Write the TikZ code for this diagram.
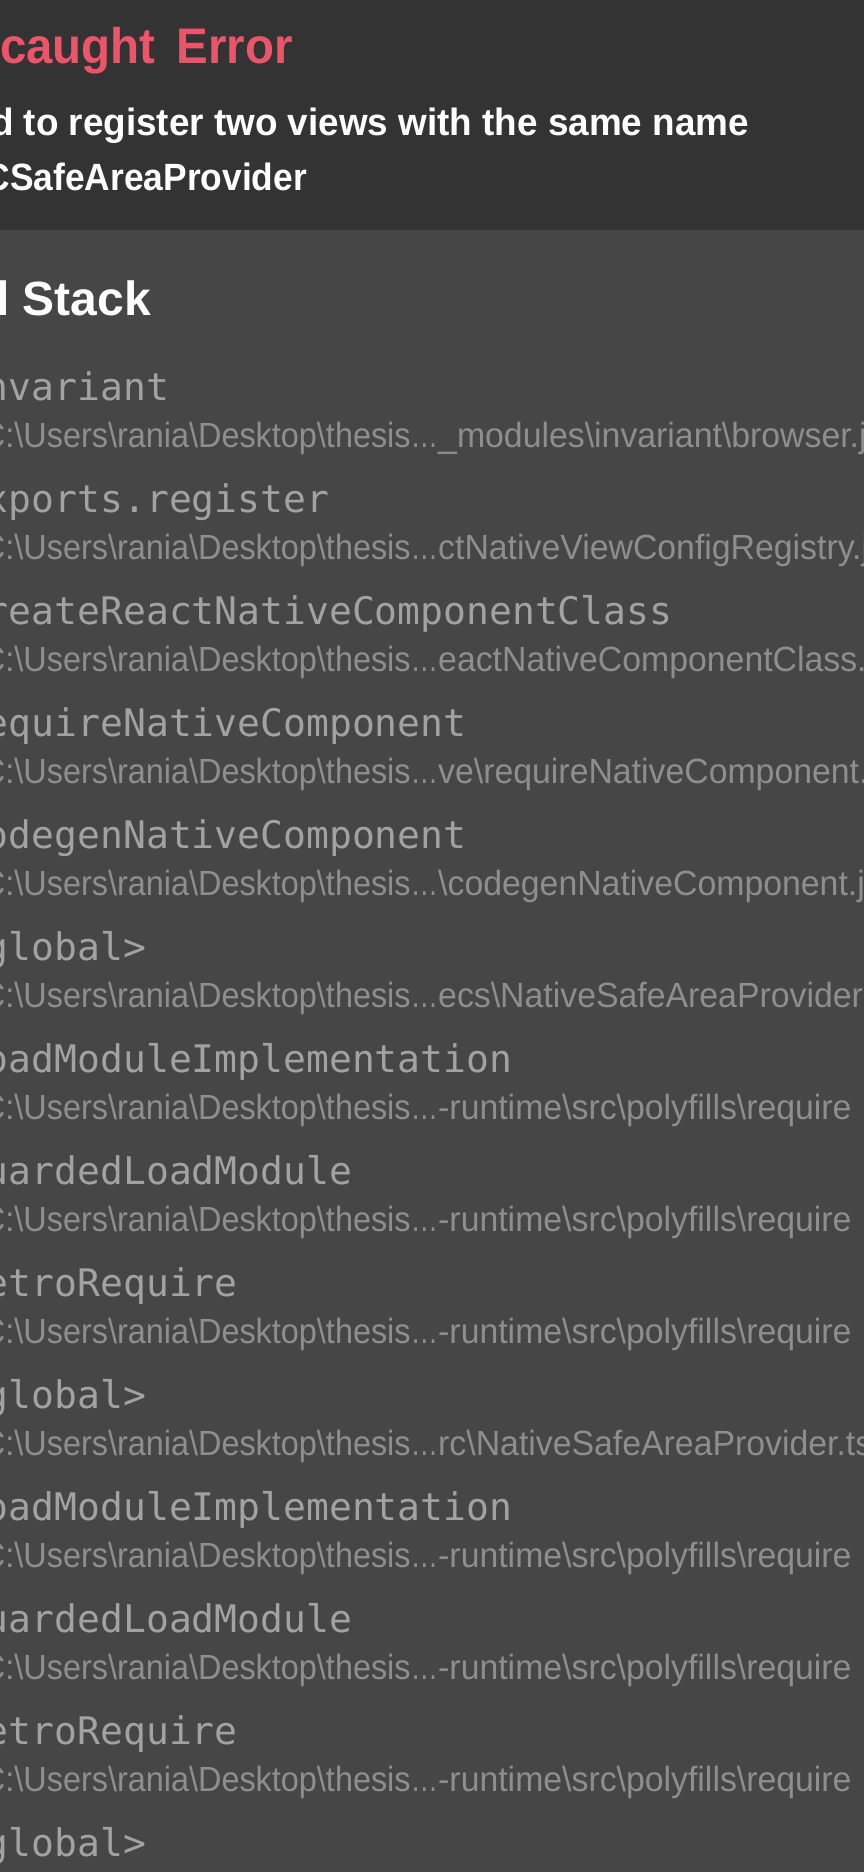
\documentclass[tikz,border=0pt]{standalone}
\usepackage{graphicx}
\usepackage{fontspec}
\setmainfont{Liberation Sans}
\newfontfamily\titlefont[FakeStretch=0.95,WordSpace=1.6]{Liberation Sans}
\newfontfamily\msgfontA[FakeStretch=0.97]{Liberation Sans}
\newfontfamily\msgfontB[FakeStretch=0.93]{Liberation Sans}
\newfontfamily\codefont{DejaVu Sans Mono}
\newfontfamily\pathfontA[FakeStretch=0.926]{Liberation Sans}
\newfontfamily\pathfontB[FakeStretch=0.966]{Liberation Sans}
\newcommand\Bsl{\textbackslash}
\newcommand\Loc{{\pathfontA C:\Bsl Users\Bsl rania\Bsl Desktop\Bsl thesis\scalebox{0.85}[1]{…}}\pathfontB}
\definecolor{headbg}{RGB}{51,51,51}
\definecolor{bodybg}{RGB}{70,70,70}
\definecolor{errred}{RGB}{236,84,106}
\definecolor{monogray}{RGB}{162,162,162}
\definecolor{pathgray}{RGB}{142,142,142}
\tikzset{
  txt/.style={anchor=base west, inner sep=0pt, outer sep=0pt},
  frame/.style={txt, text=monogray, font=\codefont\fontsize{38}{40}\selectfont},
  loc/.style={txt, text=pathgray, font=\fontsize{35}{38}\selectfont},
  msg/.style={txt, text=white},
}
\begin{document}
\begin{tikzpicture}[x=1pt,y=-1pt]
\useasboundingbox (0,0) rectangle (864,1872);
\clip (0,0) rectangle (864,1872);
\fill[bodybg] (0,0) rectangle (864,1872);
\fill[headbg] (0,0) rectangle (864,230);
% header
\node[txt, text=errred, font=\titlefont\bfseries\fontsize{50}{55}\selectfont] (title) at (0,63) {caught Error};
\node[msg, font=\msgfontA\bfseries\fontsize{38}{42}\selectfont] (msg1) at (-9,135) {d to register two views with the same name};
\node[msg, font=\msgfontB\bfseries\fontsize{38}{42}\selectfont] (msg2) at (-15.2,190) {CSafeAreaProvider};
\node[txt, text=white, font=\bfseries\fontsize{48}{52}\selectfont] (heading) at (-3.7,315) {l Stack};
% call stack frames
\node[frame] (f1)  at (-14,400)  {nvariant};
\node[loc]   (p1)  at (-18,447) {\Loc\_modules\Bsl invariant\Bsl browser.j};
\node[frame] (f2)  at (-14,512)  {xports.register};
\node[loc]   (p2)  at (-18,559) {\Loc ctNativeViewConfigRegistry.j};
\node[frame] (f3)  at (-14,624)  {reateReactNativeComponentClass};
\node[loc]   (p3)  at (-18,671) {\Loc eactNativeComponentClass.j};
\node[frame] (f4)  at (-14,736)  {equireNativeComponent};
\node[loc]   (p4)  at (-18,783) {\Loc ve\Bsl requireNativeComponent.j};
\node[frame] (f5)  at (-14,848)  {odegenNativeComponent};
\node[loc]   (p5)  at (-18,895) {\Loc\Bsl codegenNativeComponent.j};
\node[frame] (f6)  at (-14,960)  {global>};
\node[loc]   (p6)  at (-18,1007) {\Loc ecs\Bsl NativeSafeAreaProvider.j};
\node[frame] (f7)  at (-14,1072) {oadModuleImplementation};
\node[loc]   (p7)  at (-18,1119) {\Loc -runtime\Bsl src\Bsl polyfills\Bsl require};
\node[frame] (f8)  at (-14,1184) {uardedLoadModule};
\node[loc]   (p8)  at (-18,1231) {\Loc -runtime\Bsl src\Bsl polyfills\Bsl require};
\node[frame] (f9)  at (-14,1296) {etroRequire};
\node[loc]   (p9)  at (-18,1343) {\Loc -runtime\Bsl src\Bsl polyfills\Bsl require};
\node[frame] (f10) at (-14,1408) {global>};
\node[loc]   (p10) at (-18,1455) {\Loc rc\Bsl NativeSafeAreaProvider.ts};
\node[frame] (f11) at (-14,1520) {oadModuleImplementation};
\node[loc]   (p11) at (-18,1567) {\Loc -runtime\Bsl src\Bsl polyfills\Bsl require};
\node[frame] (f12) at (-14,1632) {uardedLoadModule};
\node[loc]   (p12) at (-18,1679) {\Loc -runtime\Bsl src\Bsl polyfills\Bsl require};
\node[frame] (f13) at (-14,1744) {etroRequire};
\node[loc]   (p13) at (-18,1791) {\Loc -runtime\Bsl src\Bsl polyfills\Bsl require};
\node[frame] (f14) at (-14,1856) {global>};
\end{tikzpicture}
\end{document}
